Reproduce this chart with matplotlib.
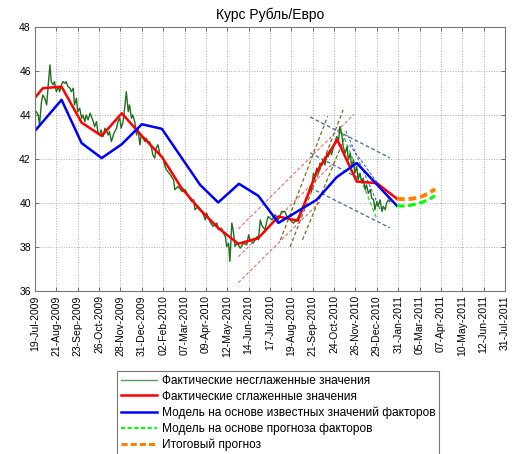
import matplotlib.pyplot as plt

plt.rcParams['font.family'] = ['Liberation Sans', 'DejaVu Sans']

# days counted from 19-Jul-2009
tick_days = [33 * i for i in range(23)]
tick_labels = ['19-Jul-2009', '21-Aug-2009', '23-Sep-2009', '26-Oct-2009', '28-Nov-2009',
               '31-Dec-2009', '02-Feb-2010', '07-Mar-2010', '09-Apr-2010', '12-May-2010',
               '14-Jun-2010', '17-Jul-2010', '19-Aug-2010', '21-Sep-2010', '24-Oct-2010',
               '26-Nov-2010', '29-Dec-2010', '31-Jan-2011', '05-Mar-2011', '07-Apr-2011',
               '10-May-2011', '12-Jun-2011', '31-Jul-2011']

# raw (unsmoothed) rate
raw_days = [0, 2, 5, 7, 10, 12, 15, 18, 20, 23, 25, 28, 30, 33, 36, 38, 41, 43, 46, 48,
            51, 54, 56, 59, 61, 64, 66, 69, 72, 74, 77, 79, 82, 85, 87, 90, 92, 95, 97, 100,
            102, 105, 108, 110, 113, 115, 118, 121, 123, 126, 128, 131, 133, 136, 139, 141, 144, 146, 149, 151,
            154, 157, 159, 162, 164, 167, 170, 172, 175, 177, 180, 182, 185, 187, 190, 193, 195, 198, 200, 203,
            209, 214, 216, 221, 227, 232, 237, 242, 245, 247, 252, 258, 260, 263, 265, 270, 275, 281, 283, 288,
            291, 294, 296, 299, 301, 304, 306, 309, 312, 317, 322, 327, 330, 332, 337, 343, 345, 348, 350, 355,
            360, 366, 371, 376, 381, 386, 389, 394, 399, 404, 407, 412, 417, 422, 425, 427, 430, 433, 435, 438,
            440, 443, 445, 448, 451, 453, 456, 458, 461, 463, 466, 469, 471, 474, 476, 479, 482, 484, 487, 489,
            492, 494, 497, 499, 502, 505, 507, 510, 512, 515, 518, 520, 523, 525, 528, 530, 533, 536, 538, 541,
            543, 546, 548]
raw_vals = [44.09, 44.16, 44.01, 43.56, 44.62, 44.92, 44.77, 44.47, 45.23, 46.29, 45.53, 45.38, 45.53, 45.07, 45.30, 45.07, 45.38, 45.53, 45.45, 45.53,
            45.30, 45.23, 45.07, 45.23, 44.47, 44.77, 44.16, 44.32, 43.86, 44.01, 43.71, 44.01, 43.79, 44.09, 43.94, 43.71, 43.48, 43.71, 43.25, 43.10,
            43.33, 43.03, 43.41, 43.33, 43.10, 43.25, 42.80, 43.10, 43.25, 43.41, 43.71, 43.86, 43.41, 43.71, 44.47, 45.07, 44.16, 44.47, 43.86, 44.01,
            43.71, 43.10, 43.41, 42.65, 43.10, 42.95, 42.80, 42.95, 42.73, 42.80, 42.50, 42.20, 42.05, 42.50, 42.65, 42.20, 42.12, 42.05, 41.74, 41.51,
            41.29, 41.06, 40.61, 40.76, 40.53, 40.61, 40.30, 40.07, 40.15, 39.70, 39.85, 39.62, 39.47, 39.24, 39.55, 39.16, 38.94, 39.09, 38.79, 38.86,
            38.64, 38.48, 38.03, 38.18, 37.35, 39.09, 38.79, 38.03, 38.18, 37.95, 38.18, 38.10, 38.56, 38.33, 38.18, 38.48, 38.33, 39.24, 39.01, 38.79,
            39.39, 39.24, 39.47, 39.24, 39.62, 39.62, 39.39, 39.24, 39.09, 39.24, 39.39, 39.70, 40.00, 40.38, 40.76, 40.53, 41.36, 41.21, 41.59, 41.36,
            41.82, 41.74, 41.97, 41.74, 42.27, 42.12, 42.42, 42.20, 42.57, 42.73, 43.03, 42.88, 43.48, 43.10, 42.57, 42.27, 42.57, 41.97, 42.27, 41.66,
            41.97, 41.36, 41.66, 41.06, 41.36, 40.91, 41.14, 40.61, 40.83, 40.45, 40.61, 40.23, 40.15, 39.70, 40.07, 39.85, 40.15, 39.62, 39.85, 39.70,
            40.00, 40.15, 40.07]

# smoothed rate
smooth_days = [0, 12, 41, 72, 103, 134, 165, 196, 226, 255, 283, 314, 345, 376, 406, 435, 467, 497, 528, 559]
smooth_vals = [44.80, 45.23, 45.30, 43.66, 43.06, 44.09, 43.06, 42.10, 40.70, 39.70, 38.87, 38.15, 38.41, 39.39, 39.20, 41.42, 42.88, 40.98, 40.91, 40.20]

# model with known factor values
model_days = [0, 41, 72, 103, 134, 165, 196, 255, 283, 315, 345, 376, 435, 466, 497, 559]
model_vals = [43.29, 44.70, 42.73, 42.05, 42.68, 43.59, 43.38, 40.83, 40.03, 40.88, 40.33, 39.10, 40.15, 41.18, 41.82, 39.88]

# forecasts
fc_days = [559, 569, 579, 589, 599, 609, 618]
fc_factor_vals = [39.88, 39.87, 39.90, 39.96, 40.05, 40.18, 40.33]
fc_total_vals = [40.20, 40.18, 40.19, 40.23, 40.32, 40.46, 40.64]

# trend channels: (day0, val0, day1, val1)
red_channel = [(314, 38.83, 493, 44.05), (314, 37.56, 466, 41.98), (314, 36.38, 440, 40.05)]
olive_channel = [(379, 38.32, 452, 43.95), (394, 38.01, 476, 44.24), (413, 38.33, 480, 43.10)]
blue_channel = [(425, 43.92, 548, 42.06), (425, 42.29, 505, 41.06), (425, 40.70, 548, 38.88)]
green_channel = [(471, 43.47, 528, 39.28)]
thin_blue_channel = [(480, 43.29, 534, 39.65), (486, 42.65, 548, 40.15)]

fig = plt.figure(figsize=(5.15, 4.54), dpi=100)
ax = fig.add_axes([0.068, 0.359, 0.9126, 0.5808])

for d0, v0, d1, v1 in red_channel:
    ax.plot([d0, d1], [v0, v1], color='#e86a6a', lw=0.8, dashes=(3, 2))
for d0, v0, d1, v1 in olive_channel:
    ax.plot([d0, d1], [v0, v1], color='#6f6f28', lw=0.9, dashes=(3, 2))
for d0, v0, d1, v1 in blue_channel:
    ax.plot([d0, d1], [v0, v1], color='#3f6a9e', lw=0.9, dashes=(3, 2))
for d0, v0, d1, v1 in thin_blue_channel:
    ax.plot([d0, d1], [v0, v1], color='#3050d0', lw=0.7, dashes=(3, 2))
for d0, v0, d1, v1 in green_channel:
    ax.plot([d0, d1], [v0, v1], color='#30d030', lw=0.9, dashes=(3, 2))

l1, = ax.plot(raw_days, raw_vals, color='#1f6f1f', lw=1.0)
l2, = ax.plot(smooth_days, smooth_vals, color='red', lw=1.8)
l3, = ax.plot(model_days, model_vals, color='blue', lw=1.8)
l4, = ax.plot(fc_days, fc_factor_vals, color='#00ff00', lw=2.2, dashes=(2.5, 1.2))
l5, = ax.plot(fc_days, fc_total_vals, color='#ff7f00', lw=2.8, dashes=(2, 1))

ax.set_xlim(0, 726)
ax.set_ylim(36, 48)
ax.set_xticks(tick_days)
ax.set_xticklabels(tick_labels, rotation=90, fontsize=7.5)
ax.set_yticks(range(36, 49, 2))
ax.tick_params(axis='y', labelsize=7.5, pad=3)
ax.tick_params(direction='in', top=True, right=True, length=3, width=0.6, color='#555555')
ax.tick_params(axis='x', pad=3)
ax.grid(True, color='#aaaaaa', linestyle=':', lw=0.7)
for s in ax.spines.values():
    s.set_color('#777777')
    s.set_linewidth(0.8)
ax.set_title('Курс Рубль/Евро', fontsize=10, pad=6)

h1 = plt.Line2D([], [], color='#5a9a5a', lw=1.0)
h4 = plt.Line2D([], [], color='#00ff00', lw=1.5, dashes=(2, 1.2))
h5 = plt.Line2D([], [], color='#ff7f00', lw=2.2, dashes=(2, 1))
leg = fig.legend([h1, l2, l3, h4, h5],
                 ['Фактические несглаженные значения', 'Фактические сглаженные значения',
                  'Модель на основе известных значений факторов', 'Модель на основе прогноза факторов',
                  'Итоговый прогноз'],
                 loc='center', bbox_to_anchor=(0.54, 0.0905), fontsize=8.6, frameon=True,
                 fancybox=False, handlelength=3.0, labelspacing=0.32, handletextpad=0.4,
                 borderpad=0.33, borderaxespad=0)
leg.get_frame().set_edgecolor('#555555')
leg.get_frame().set_linewidth(0.8)

plt.savefig('out.png', dpi=100)
